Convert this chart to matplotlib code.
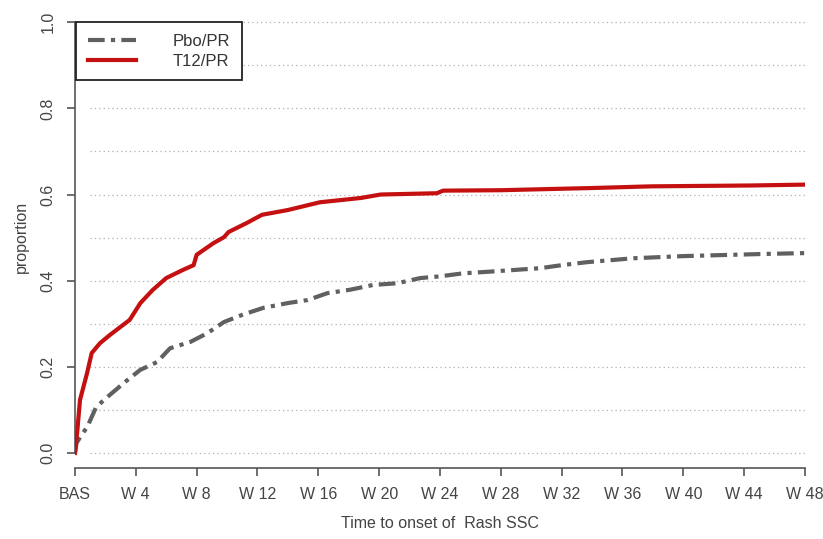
import matplotlib.pyplot as plt
import numpy as np

plt.rcParams["font.family"] = ["Liberation Sans", "DejaVu Sans"]

# Cumulative proportion with onset of rash, by week since baseline
pbo_weeks = [0, 0.1, 0.4, 0.8, 1.4, 2.3, 3.3, 4.3, 5.4, 6.25, 7.6, 8.7, 9.8,
             11.1, 12.4, 14.0, 15.3, 16.6, 18.1, 19.6, 21.2, 22.7, 24.0, 25.5,
             27.3, 30.6, 32.0, 33.7, 36.7, 40.0, 45.3, 48.0]
pbo_prop = [0.0, 0.023, 0.04, 0.06, 0.107, 0.135, 0.165, 0.193, 0.211, 0.243,
            0.258, 0.278, 0.304, 0.322, 0.337, 0.348, 0.355, 0.371, 0.379,
            0.39, 0.394, 0.406, 0.41, 0.417, 0.421, 0.429, 0.436, 0.443, 0.452,
            0.457, 0.462, 0.464]

t12_weeks = [0, 0.15, 0.33, 0.8, 1.1, 1.65, 2.3, 3.6, 4.3, 5.1, 6.0, 7.1, 7.8,
             8.0, 9.1, 9.8, 10.1, 11.3, 12.3, 14.0, 16.1, 18.8, 20.1, 23.8,
             24.2, 28.0, 33.9, 37.9, 44.5, 48.0]
t12_prop = [0.0, 0.05, 0.123, 0.186, 0.232, 0.255, 0.274, 0.309, 0.348, 0.378,
            0.406, 0.425, 0.436, 0.46, 0.487, 0.501, 0.513, 0.534, 0.553,
            0.564, 0.582, 0.592, 0.6, 0.603, 0.609, 0.61, 0.615, 0.619, 0.621,
            0.623]

week_ticks = [0, 4, 8, 12, 16, 20, 24, 28, 32, 36, 40, 44, 48]
week_labels = ["BAS", "W 4", "W 8", "W 12", "W 16", "W 20", "W 24", "W 28",
               "W 32", "W 36", "W 40", "W 44", "W 48"]
y_ticks = [0.0, 0.2, 0.4, 0.6, 0.8, 1.0]
grid_levels = np.round(np.arange(0, 1.01, 0.1), 1)

text_color = "#444444"

fig = plt.figure(figsize=(8.23, 5.39), dpi=100)
ax = fig.add_axes([0.0911, 0.1317, 0.887, 0.859])

# dotted reference lines at every 0.1
ax.hlines(grid_levels, 1.0, 48, colors="#b0b0b0", linestyles=(0, (1, 2.5)),
          linewidth=0.9, zorder=1)

ax.plot(pbo_weeks, pbo_prop, color="#606060", linewidth=3,
        linestyle=(0, (4, 1.5, 1, 1.5)), label="Pbo/PR", zorder=3)
ax.plot(t12_weeks, t12_prop, color="#c41010", linewidth=3, label="T12/PR",
        zorder=4)

ax.set_xlim(0, 48)
ax.set_ylim(-0.035, 1.04)

for side in ("top", "right"):
    ax.spines[side].set_visible(False)
ax.spines["left"].set_bounds(0, 1)
ax.spines["bottom"].set_bounds(0, 48)
for side in ("left", "bottom"):
    ax.spines[side].set_color("#555555")
    ax.spines[side].set_linewidth(1.2)

ax.set_xticks(week_ticks)
ax.set_xticklabels(week_labels, fontsize=11.5, color=text_color)
ax.set_yticks(y_ticks)
ax.set_yticklabels([f"{v:.1f}" for v in y_ticks], rotation=90, va="center",
                   fontsize=11.5, color=text_color)
ax.tick_params(axis="both", direction="out", length=6, width=1.2,
               color="#555555", pad=8)

ax.set_xlabel("Time to onset of  Rash SSC", fontsize=11.5, color=text_color,
              labelpad=10)
ax.set_ylabel("proportion", fontsize=11.5, color=text_color, labelpad=8)

leg = ax.legend(loc="upper left", bbox_to_anchor=(0.0015, 0.963),
                borderaxespad=0, fancybox=False, framealpha=1,
                edgecolor="#222222", fontsize=12, handlelength=2.9,
                handletextpad=2.2, borderpad=0.7, labelspacing=0.3)
leg.get_frame().set_linewidth(1.3)
for txt in leg.get_texts():
    txt.set_color("#333333")
leg.set_zorder(10)

fig.savefig("out.png", dpi=100)
